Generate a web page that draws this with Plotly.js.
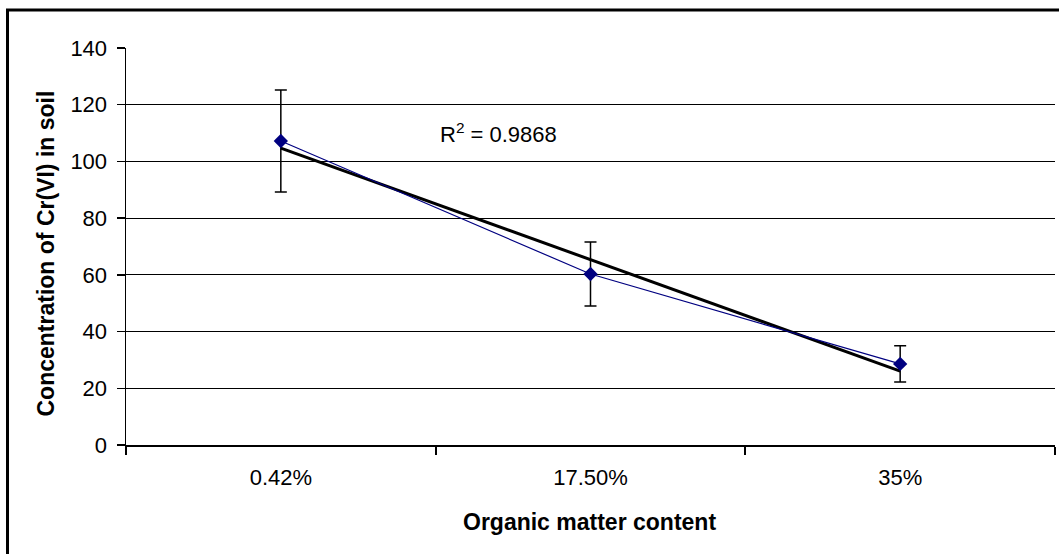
<!DOCTYPE html>
<html>
<head>
<meta charset="utf-8">
<script src="https://cdn.plot.ly/plotly-3.0.1.min.js"></script>
<style>
  html, body { margin: 0; padding: 0; background: #fff; }
  #chart { width: 1059px; height: 554px; }
</style>
</head>
<body>
<div id="chart"></div>
<script>
// Data
const categories = ["0.42%", "17.50%", "35%"];
const concentration = [107.2, 60.3, 28.6];
const errorValues = [18.0, 11.3, 6.4];
const yTickValues = [0, 20, 40, 60, 80, 100, 120, 140];
const rSquaredLabel = "R<sup>2</sup> = 0.9868";

// Linear trendline (least squares over category index)
const idx = categories.map((_, i) => i + 1);
const n = idx.length;
const mx = idx.reduce((a, b) => a + b, 0) / n;
const my = concentration.reduce((a, b) => a + b, 0) / n;
let sxy = 0, sxx = 0;
for (let i = 0; i < n; i++) { sxy += (idx[i] - mx) * (concentration[i] - my); sxx += (idx[i] - mx) ** 2; }
const slope = sxy / sxx;
const intercept = my - slope * mx;
const trend = idx.map(v => intercept + slope * v);

const font = "Liberation Sans, Arial, sans-serif";

const traces = [
  {
    x: categories, y: trend, type: "scatter", mode: "lines",
    line: { color: "#000000", width: 3 }, hoverinfo: "skip", showlegend: false
  },
  {
    x: categories, y: concentration, type: "scatter", mode: "lines+markers",
    line: { color: "#000080", width: 1.2 },
    marker: { symbol: "diamond", size: 11, color: "#000080" },
    error_y: { type: "data", array: errorValues, visible: true, color: "#000000", thickness: 1.5, width: 6 },
    showlegend: false
  }
];

const layout = {
  width: 1059, height: 554,
  margin: { l: 126, r: 4, t: 48, b: 109 },
  paper_bgcolor: "#ffffff", plot_bgcolor: "#ffffff",
  font: { family: font, color: "#000000", size: 22 },
  showlegend: false,
  xaxis: {
    type: "category", range: [-0.5, 2.5], tickson: "boundaries",
    ticks: "outside", ticklen: 8, tickwidth: 2, tickcolor: "#000",
    showline: true, linecolor: "#000", linewidth: 1.5,
    showgrid: false, zeroline: false, fixedrange: true,
    tickfont: { family: font, size: 22 }, ticklabelstandoff: 12
  },
  yaxis: {
    range: [0, 140], tickvals: yTickValues, ticktext: yTickValues.map(String),
    ticks: "outside", ticklen: 8, tickcolor: "#000", tickwidth: 1.5,
    showline: true, linecolor: "#000", linewidth: 1.5,
    showgrid: true, gridcolor: "#000", gridwidth: 1.2, zeroline: false,
    tickfont: { family: font, size: 22 }, ticklabelstandoff: 5, fixedrange: true
  },
  annotations: [
    { text: rSquaredLabel, xref: "paper", yref: "paper", x: (498 - 126) / 929, y: (445 - 133) / 397,
      showarrow: false, xanchor: "center", yanchor: "middle", font: { family: font, size: 22 } },
    { text: "<b>Organic matter content</b>", xref: "paper", yref: "paper", x: (589 - 126) / 929, y: (445 - 522) / 397,
      showarrow: false, xanchor: "center", yanchor: "middle", font: { family: font, size: 23 } },
    { text: "<b>Concentration of Cr(VI) in soil</b>", xref: "paper", yref: "paper", x: (45.5 - 126) / 929, y: (445 - 254) / 397,
      textangle: -90, showarrow: false, xanchor: "center", yanchor: "middle", font: { family: font, size: 23 } }
  ],
  shapes: [
    { type: "rect", xref: "paper", yref: "paper",
      x0: (7.5 - 126) / 929, x1: 1.2, y0: -0.6, y1: 1 + (48 - 10) / 397,
      line: { color: "#000", width: 3 }, fillcolor: "rgba(0,0,0,0)", layer: "above" }
  ]
};

Plotly.newPlot("chart", traces, layout, { displayModeBar: false, staticPlot: true });
</script>
</body>
</html>
